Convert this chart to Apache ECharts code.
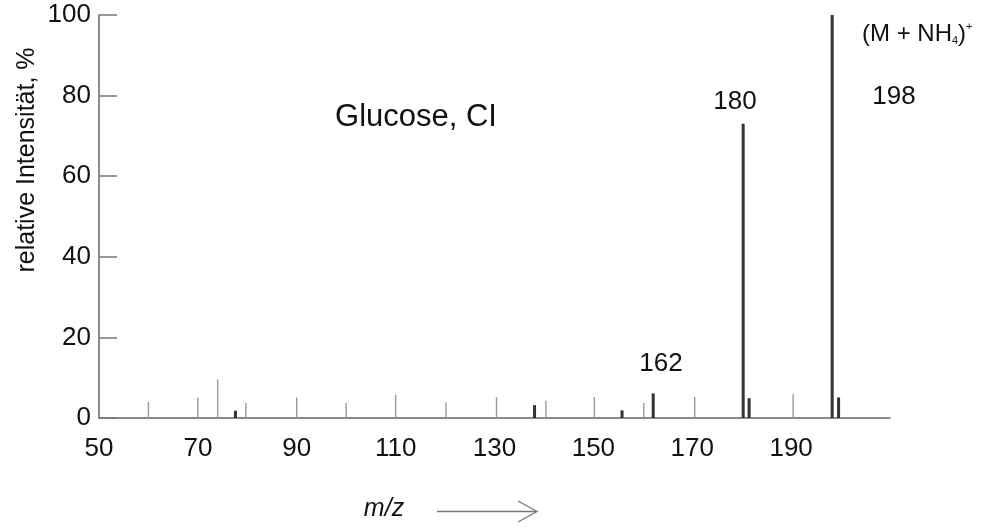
<!DOCTYPE html>
<html>
<head>
<meta charset="utf-8">
<script src="https://cdn.jsdelivr.net/npm/echarts@6/dist/echarts.min.js"></script>
<style>
  html, body { margin: 0; padding: 0; background: #fff; }
  #chart { width: 983px; height: 528px; }
</style>
</head>
<body>
<div id="chart"></div>
<script>
  // weak peaks (thin grey lines)
  const mzMinor = [60, 70, 74, 79.7, 90, 100, 110, 120.2, 130.4, 140.4, 150.2, 160.2, 170.5, 190.4];
  const intMinor = [4.0, 5.1, 9.6, 3.7, 5.1, 3.7, 5.8, 3.9, 5.2, 4.3, 5.2, 3.7, 5.2, 5.9];
  // main peaks (thick dark lines)
  const mzMajor = [77.6, 138.1, 155.8, 162.1, 180.3, 181.5, 198.3, 199.6];
  const intMajor = [1.8, 3.2, 1.9, 6.1, 73, 4.9, 100, 5.1];
  const xTicks = [50, 70, 90, 110, 130, 150, 170, 190];

  const font = '"Liberation Sans", Arial, sans-serif';
  const chart = echarts.init(document.getElementById('chart'));

  function stickSeries(mz, vals, color, width) {
    return {
      type: 'custom',
      data: mz.map((m, i) => [m, vals[i]]),
      renderItem: function (params, api) {
        const p0 = api.coord([api.value(0), 0]);
        const p1 = api.coord([api.value(0), api.value(1)]);
        return {
          type: 'line',
          shape: { x1: p0[0], y1: p0[1], x2: p1[0], y2: p1[1] },
          style: { stroke: color, lineWidth: width }
        };
      },
      silent: true
    };
  }

  const option = {
    animation: false,
    backgroundColor: '#fff',
    grid: { left: 99, right: 93, top: 15, bottom: 110 },
    xAxis: {
      type: 'value',
      min: 50,
      max: 210,
      interval: 20,
      axisLine: { lineStyle: { color: '#666', width: 1.5 } },
      axisTick: { show: false },
      splitLine: { show: false },
      axisLabel: {
        margin: 18,
        color: '#111',
        fontFamily: font,
        fontSize: 26,
        formatter: v => (xTicks.indexOf(v) >= 0 ? String(v) : '')
      }
    },
    yAxis: {
      type: 'value',
      min: 0,
      max: 100,
      interval: 20,
      axisLine: { show: true, lineStyle: { color: '#666', width: 1.5 } },
      axisTick: { show: true, inside: true, length: 18, lineStyle: { color: '#777', width: 1.5 } },
      splitLine: { show: false },
      axisLabel: { margin: 8, color: '#111', fontFamily: font, fontSize: 26 }
    },
    graphic: [
      { type: 'text', rotation: Math.PI / 2, x: 27, y: 160,
        style: { text: 'relative Intensität, %', font: '25px ' + font, fill: '#111', align: 'center', verticalAlign: 'middle' } },
      { type: 'text', x: 416, y: 117,
        style: { text: 'Glucose, CI', font: '31px ' + font, fill: '#111', align: 'center', verticalAlign: 'middle' } },
      { type: 'text', x: 661, y: 364,
        style: { text: '162', font: '26px ' + font, fill: '#111', align: 'center', verticalAlign: 'middle' } },
      { type: 'text', x: 735, y: 102,
        style: { text: '180', font: '26px ' + font, fill: '#111', align: 'center', verticalAlign: 'middle' } },
      { type: 'text', x: 894, y: 97,
        style: { text: '198', font: '26px ' + font, fill: '#111', align: 'center', verticalAlign: 'middle' } },
      { type: 'text', x: 862, y: 34,
        style: {
          text: '{a|(M + NH}{s|4}{a|)}{p|+}',
          verticalAlign: 'middle',
          rich: {
            a: { font: '24px ' + font, fill: '#111' },
            s: { font: '11px ' + font, fill: '#111', padding: [14, 0, 0, 0] },
            p: { font: '11px ' + font, fill: '#111', padding: [0, 0, 14, 0] }
          }
        } },
      { type: 'text', x: 384, y: 509,
        style: { text: 'm/z', font: 'italic 25px ' + font, fill: '#111', align: 'center', verticalAlign: 'middle' } },
      { type: 'line', shape: { x1: 437, y1: 511.5, x2: 536, y2: 511.5 },
        style: { stroke: '#777', lineWidth: 1.3 } },
      { type: 'polyline', shape: { points: [[518, 501], [537, 511.5], [518, 522]] },
        style: { stroke: '#777', lineWidth: 1.3, fill: null } }
    ],
    series: [
      stickSeries(mzMinor, intMinor, '#999', 1.4),
      stickSeries(mzMajor, intMajor, '#333', 3)
    ]
  };
  chart.setOption(option);
</script>
</body>
</html>
